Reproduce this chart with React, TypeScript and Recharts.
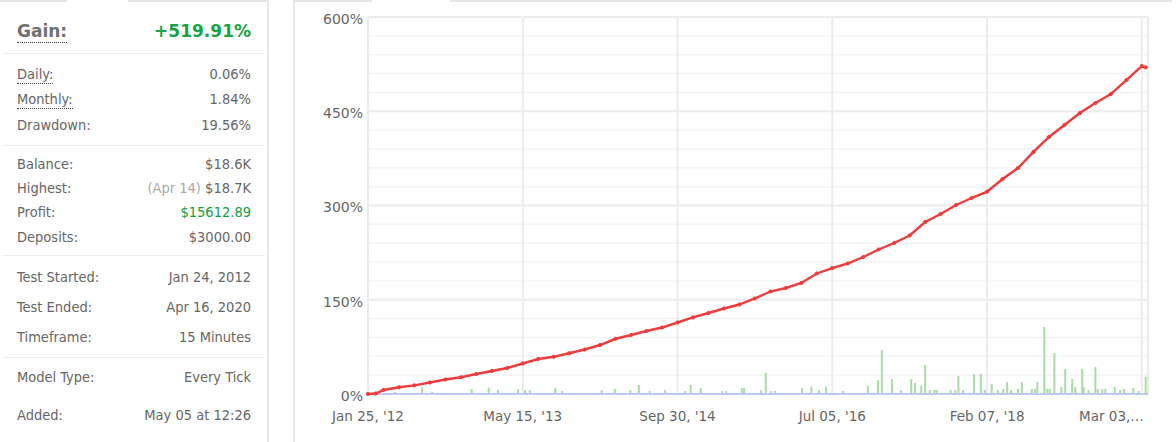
import React from 'react';
import {
  ComposedChart, Line, Bar, XAxis, YAxis, CartesianGrid, ReferenceLine,
} from 'recharts';

// ---------- Data ----------
const gainLabel = 'Gain:';
const gainValue = '+519.91%';

const groupA = [
  { label: 'Daily:', value: '0.06%', underline: true },
  { label: 'Monthly:', value: '1.84%', underline: true },
  { label: 'Drawdown:', value: '19.56%' },
];
const groupB = [
  { label: 'Balance:', value: '$18.6K' },
  { label: 'Highest:', value: '$18.7K', note: '(Apr 14)' },
  { label: 'Profit:', value: '$15612.89', green: true },
  { label: 'Deposits:', value: '$3000.00' },
];
const groupC = [
  { label: 'Test Started:', value: 'Jan 24, 2012' },
  { label: 'Test Ended:', value: 'Apr 16, 2020' },
  { label: 'Timeframe:', value: '15 Minutes' },
];
const groupD = [
  { label: 'Model Type:', value: 'Every Tick' },
  { label: 'Added:', value: 'May 05 at 12:26' },
];

const xTickIdx = [0, 20, 40, 60, 80, 100];
const xTickLabels = ["Jan 25, '12", "May 15, '13", "Sep 30, '14", "Jul 05, '16", "Feb 07, '18", 'Mar 03,…'];
const yTicks = [0, 150, 300, 450, 600];
const yMinor = [30, 60, 90, 120, 180, 210, 240, 270, 330, 360, 390, 420, 480, 510, 540, 570];

const gainIdx = [0, 1, 2, 4, 6, 8, 10, 12, 14, 16, 18, 20, 22, 24, 26, 28, 30, 32, 34, 36, 38, 40,
  42, 44, 46, 48, 50, 52, 54, 56, 58, 60, 62, 64, 66, 68, 70, 72, 74, 76, 78, 80,
  82, 84, 86, 88, 90, 92, 94, 96, 98, 100, 100.5];
const gainPct = [0, 0.8, 6.4, 10.7, 13.8, 18.3, 23.1, 26.6, 31.8, 36.6, 41.4, 48.5, 55.7, 59.2, 64.8, 70.8, 78, 87.9, 93.9, 100.3, 105.8, 113.8,
  121.8, 128.9, 136.1, 142.4, 152, 163.1, 168.7, 176.7, 191.8, 200.5, 207.7, 218, 230, 240.3, 252.3, 273.7, 286.5, 300.8, 311.9, 322,
  342.2, 359.7, 385.2, 409, 428.1, 447.2, 463.1, 477.4, 499.7, 522, 519.9];

const volIdx = [1.6, 3.5, 7.0, 8.3, 13.4, 15.6, 16.8, 19.4, 20.3, 20.9, 24.2, 25.1, 30.2, 31.9, 33.9, 35.0, 36.4, 38.4,
  41.0, 41.7, 43.0, 45.8, 46.3, 48.3, 48.6, 50.8, 51.4, 52.1, 52.6, 56.1, 57.3, 58.3, 59.2, 61.4, 64.6, 65.9, 66.4,
  67.7, 68.9, 70.2, 70.7, 71.5, 72.0, 72.6, 73.2, 73.5, 75.3, 75.9, 76.3, 76.9, 78.3, 79.2, 79.7, 80.6, 81.4, 82.1,
  82.6, 83.1, 84.0, 84.5, 85.8, 86.2, 86.5, 87.4, 87.8, 88.1, 88.7, 89.6, 90.1, 91.0, 91.4, 92.3, 92.5, 93.1, 94.0,
  94.3, 94.9, 95.3, 96.5, 97.2, 97.7, 98.9, 99.6, 100.5];
const volPct = [4.8, 3.2, 11, 3.2, 8, 10, 6.4, 7.5, 6.4, 6.4, 10, 4.8, 6.4, 8, 6.4, 14.3, 4.8, 6.4,
  4.8, 14.3, 9.5, 4.8, 4.8, 9.5, 9.5, 6.4, 33.4, 4.8, 4.8, 9.5, 12, 6.4, 12, 4.8, 12.7, 22.3, 70,
  23.9, 6.4, 23.9, 17.5, 12.7, 46, 6.4, 6.4, 6.4, 6.4, 6.4, 28.6, 6.4, 31.8, 31.8, 6.4, 16, 6.4, 8,
  19, 6.4, 8, 19, 8, 8, 19, 106.6, 8, 8, 65, 11, 40, 23.9, 11, 40, 11, 6.4, 43,
  8, 8, 8, 11, 6.4, 8, 9.5, 4.8, 27];

type Row = { x: number; gain?: number; vol?: number };
const rows: Row[] = [
  ...gainIdx.map((x, i) => ({ x, gain: gainPct[i] })),
  ...volIdx.map((x, i) => ({ x, vol: volPct[i] })),
].sort((a, b) => a.x - b.x);

// ---------- Styles ----------
const panelFont = '"DejaVu Sans Condensed", "DejaVu Sans", sans-serif';
const chartFont = '"DejaVu Sans", sans-serif';
const textGray = '#666';
const barColor = '#a9dba5';

const groupCenters = [[74, 99, 125], [164, 188, 212, 237], [277, 307, 337], [377, 415]];
const separators = [53, 145, 255, 357];

function StatRow({ row, cy }: { row: any; cy: number }) {
  return (
    <div style={{ position: 'absolute', left: 17, width: 234, top: cy - 10, height: 20, lineHeight: '20px', fontSize: 14.5, color: textGray, fontFamily: panelFont, fontStretch: 'condensed' }}>
      <span style={row.underline ? { borderBottom: '1px dotted #444', paddingBottom: 1 } : undefined}>{row.label}</span>
      <span style={{ position: 'absolute', right: 0, top: 0, color: row.green ? '#13a040' : textGray }}>
        {row.note ? <span style={{ color: '#aaa' }}>{row.note} </span> : null}
        {row.value}
      </span>
    </div>
  );
}

const XTick = (props: any) => {
  const { x, y, payload } = props;
  const i = xTickIdx.indexOf(payload.value);
  const last = i === xTickIdx.length - 1;
  return (
    <text x={last ? x + 2 : x} y={y} dy="0.71em" textAnchor={last ? 'end' : 'middle'} fill={textGray} fontSize={13.5} fontFamily={chartFont}>
      {xTickLabels[i] ?? ''}
    </text>
  );
};

const YTick = (props: any) => {
  const { x, y, payload } = props;
  return (
    <text x={x} y={y + 2} dy="0.355em" textAnchor="end" fill={textGray} fontSize={14} fontFamily={chartFont}>
      {`${payload.value}%`}
    </text>
  );
};

const ThinBar = (props: any) => {
  const { x, y, width, height } = props;
  if (height == null || height <= 0) return null;
  const cx = x + width / 2;
  return <rect x={cx - 1} y={y} width={2} height={height} fill={barColor} />;
};

export default function App() {
  const groups = [groupA, groupB, groupC, groupD];
  return (
    <div style={{ position: 'absolute', left: 0, top: 0, width: 1176, height: 442, background: '#fff', overflow: 'hidden' }}>
      {/* Left stats card */}
      <div style={{ position: 'absolute', left: 0, top: 0, width: 267, height: 442, borderRight: '2px solid #e8e8e8' }}>
        <div style={{ position: 'absolute', left: 0, top: 0, width: 67, height: 2, background: '#e6e6e6' }} />
        <div style={{ position: 'absolute', left: 128, top: 0, width: 139, height: 2, background: '#e6e6e6' }} />
        <div style={{ position: 'absolute', left: 17, width: 234, top: 19, height: 24, lineHeight: '24px', fontSize: 17, fontWeight: 'bold', fontFamily: '"DejaVu Sans", sans-serif' }}>
          <span style={{ color: '#6f6f6f', borderBottom: '1px dotted #444', paddingBottom: 1 }}>{gainLabel}</span>
          <span style={{ position: 'absolute', right: 0, top: 0, color: '#14a445' }}>{gainValue}</span>
        </div>
        {separators.map((y, i) => (
          <div key={i} style={{ position: 'absolute', left: 3, width: 262, top: y, height: 1, background: '#ececec' }} />
        ))}
        {groups.map((g, gi) => g.map((row, ri) => (
          <StatRow key={`${gi}-${ri}`} row={row} cy={groupCenters[gi][ri]} />
        )))}
      </div>

      {/* Right chart panel */}
      <div style={{ position: 'absolute', left: 293, top: 0, width: 883, height: 442, borderLeft: '2px solid #e8e8e8', boxSizing: 'border-box' }}>
        <div style={{ position: 'absolute', left: 0, top: 0, width: 77, height: 2, background: '#e6e6e6' }} />
        <div style={{ position: 'absolute', left: 155, top: 0, width: 722, height: 2, background: '#e6e6e6' }} />
      </div>
      <div style={{ position: 'absolute', left: 293, top: 0 }}>
        <ComposedChart width={883} height={442} data={rows} margin={{ top: 17, right: 28, bottom: 18, left: 15 }}>
          <CartesianGrid horizontalValues={yMinor} vertical={false} stroke="#f4f4f4" strokeWidth={1.5} />
          <CartesianGrid horizontalValues={yTicks} verticalValues={[...xTickIdx, 100.8]} stroke="#ececec" strokeWidth={2} />
          <XAxis dataKey="x" type="number" domain={[0, 100.8]} ticks={xTickIdx} interval={0}
            axisLine={false} tickLine={false} tickSize={0} tickMargin={17} height={30} tick={<XTick />} />
          <YAxis type="number" domain={[0, 600]} ticks={yTicks} interval={0} width={60}
            axisLine={false} tickLine={false} tickSize={0} tickMargin={5} tick={<YTick />} />
          <ReferenceLine y={0} stroke="#bccbec" strokeWidth={2} />
          <Bar dataKey="vol" fill={barColor} shape={<ThinBar />} isAnimationActive={false} />
          <Line dataKey="gain" type="linear" stroke="#ee3b3b" strokeWidth={2.4} connectNulls
            dot={{ r: 1.6, fill: '#ee3b3b', stroke: '#ee3b3b', strokeWidth: 1 }} activeDot={false} isAnimationActive={false} />
        </ComposedChart>
      </div>
    </div>
  );
}
